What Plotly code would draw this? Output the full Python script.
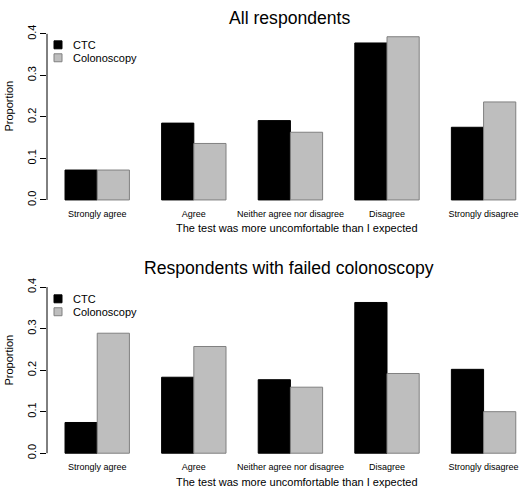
import plotly.graph_objects as go

categories = ["Strongly agree", "Agree", "Neither agree nor disagree", "Disagree", "Strongly disagree"]
series_names = ["CTC", "Colonoscopy"]
all_ctc = [0.072, 0.185, 0.191, 0.378, 0.175]
all_col = [0.072, 0.136, 0.163, 0.393, 0.236]
failed_ctc = [0.074, 0.183, 0.177, 0.363, 0.202]
failed_col = [0.289, 0.257, 0.159, 0.192, 0.100]
y_ticks = [0.0, 0.1, 0.2, 0.3, 0.4]
y_ticktext = ["0.0", "0.1", "0.2", "0.3", "0.4"]
titles = ["All respondents", "Respondents with failed colonoscopy"]
x_title = "The test was more uncomfortable than I expected"
y_title = "Proportion"

FONT = "Liberation Sans, Arial, Helvetica, sans-serif"
W, H = 520, 497
colors = ["#000000", "#bebebe"]
edge = ["#000000", "#808080"]

fig = go.Figure()
panels = [(all_ctc, all_col), (failed_ctc, failed_col)]
for p, (ctc, col) in enumerate(panels):
    xa = "x" if p == 0 else "x2"
    ya = "y" if p == 0 else "y2"
    for s, vals in enumerate([ctc, col]):
        fig.add_trace(go.Bar(
            x=categories, y=vals, name=series_names[s], xaxis=xa, yaxis=ya,
            marker=dict(color=colors[s], line=dict(color=edge[s], width=1)),
            showlegend=False,
        ))

# pixel-derived domains
def py(pix):
    return 1 - pix / H

def px(pix):
    return pix / W

top_dom = [py(205.7), py(25)]
bot_dom = [py(460), py(279.3)]
x_dom = [px(47), 1.0]

common_x = dict(
    type="category", range=[-0.52, 4.377], showgrid=False, zeroline=False,
    showline=False, ticks="", tickfont=dict(family=FONT, size=9, color="#000"),
    fixedrange=True,
)
common_y = dict(
    range=[-0.0167, 0.4167], showgrid=False, zeroline=False, showline=False,
    ticks="outside", ticklen=6, tickwidth=1, tickcolor="#000",
    tickvals=y_ticks, ticktext=y_ticktext, tickangle=-90,
    tickfont=dict(family=FONT, size=11, color="#000"),
)

fig.update_layout(
    width=W, height=H, margin=dict(l=0, r=0, t=0, b=0),
    paper_bgcolor="white", plot_bgcolor="white",
    barmode="group", bargap=1/3, bargroupgap=0,
    font=dict(family=FONT, color="#000"),
    showlegend=False,
    xaxis=dict(domain=x_dom, anchor="y", **common_x),
    yaxis=dict(domain=top_dom, anchor="x", **common_y),
    xaxis2=dict(domain=x_dom, anchor="y2", **common_x),
    yaxis2=dict(domain=bot_dom, anchor="x2", **common_y),
)

# y axis lines from 0 to 0.4 (R style)
for xr, yr in [("x domain", "y"), ("x2 domain", "y2")]:
    fig.add_shape(type="line", xref=xr, yref=yr, x0=0, x1=0, y0=y_ticks[0], y1=y_ticks[-1],
                  line=dict(color="#000", width=1))

# titles, axis labels, legends
for p, (title_pix, xlab_pix, ylab_pix, leg_pix) in enumerate([(16, 227, 105, 43), (267, 482, 360, 298)]):
    fig.add_annotation(text=titles[p], xref="paper", yref="paper", x=px(289), y=py(title_pix),
                       xanchor="center", yanchor="middle", showarrow=False,
                       font=dict(family=FONT, size=17.6, color="#000"))
    fig.add_annotation(text=x_title, xref="paper", yref="paper", x=px(297), y=py(xlab_pix),
                       xanchor="center", yanchor="middle", showarrow=False,
                       font=dict(family=FONT, size=11, color="#000"))
    fig.add_annotation(text=y_title, xref="paper", yref="paper", x=px(9), y=py(ylab_pix),
                       xanchor="center", yanchor="middle", showarrow=False, textangle=-90,
                       font=dict(family=FONT, size=11, color="#000"))
    for s, name in enumerate(series_names):
        yc = leg_pix + 13 * s
        fig.add_shape(type="rect", xref="paper", yref="paper",
                      x0=px(54), x1=px(62), y0=py(yc + 4), y1=py(yc - 4),
                      fillcolor=colors[s], line=dict(color=edge[s], width=1))
        fig.add_annotation(text=name, xref="paper", yref="paper", x=px(70.5), y=py(yc),
                           xanchor="left", yanchor="middle", showarrow=False,
                           font=dict(family=FONT, size=11, color="#000"))

fig.write_html("out.html", config={"displayModeBar": False, "staticPlot": True},
               post_script="document.body.style.margin='0';document.body.style.overflow='hidden';")
